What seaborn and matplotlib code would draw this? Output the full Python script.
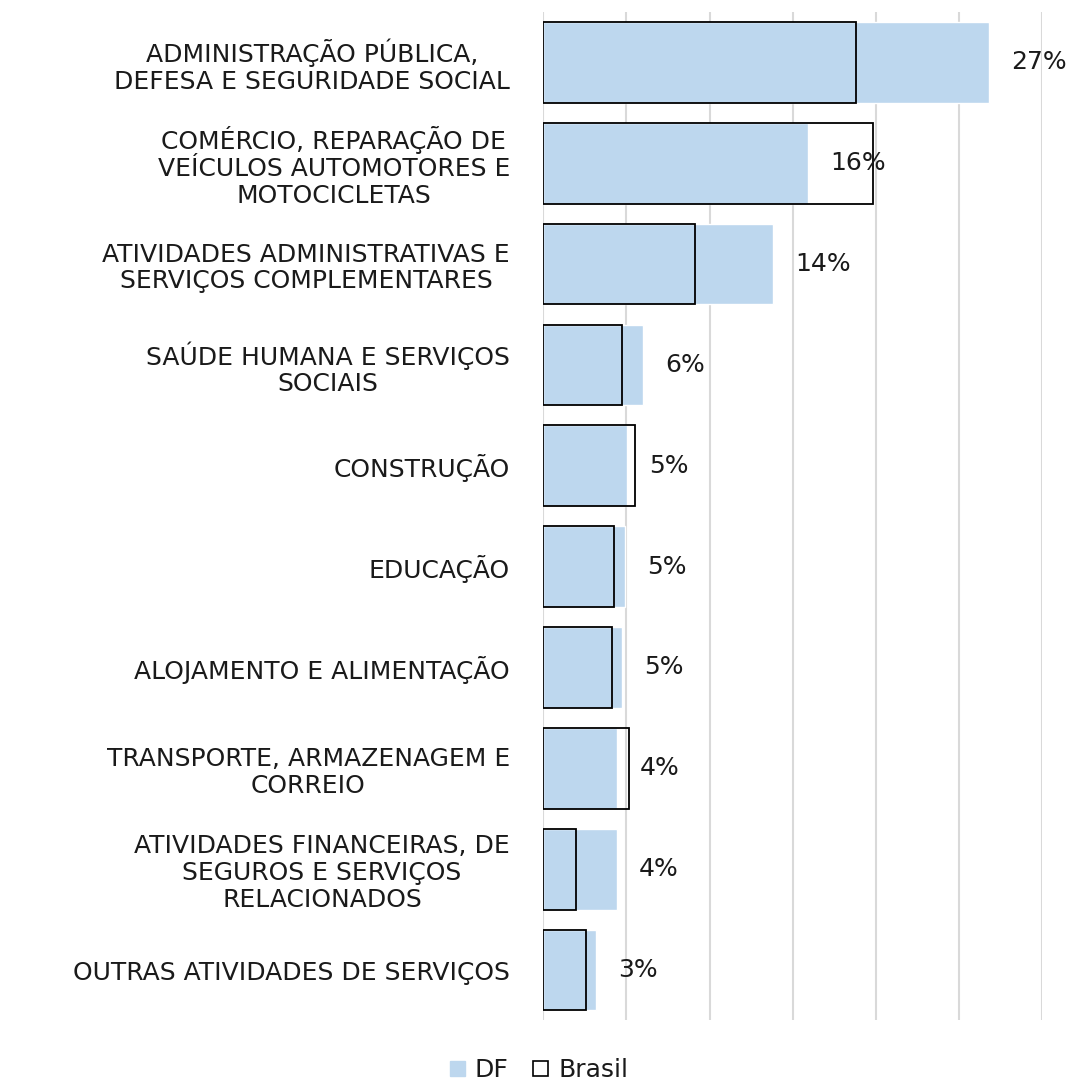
import numpy as np
import pandas as pd
import matplotlib
matplotlib.use("Agg")
import matplotlib.pyplot as plt
import seaborn as sns
from matplotlib.patches import Patch

categories = [
    "ADMINISTRAÇÃO PÚBLICA,\nDEFESA E SEGURIDADE SOCIAL",
    "COMÉRCIO, REPARAÇÃO DE\nVEÍCULOS AUTOMOTORES E\nMOTOCICLETAS",
    "ATIVIDADES ADMINISTRATIVAS E\nSERVIÇOS COMPLEMENTARES",
    "SAÚDE HUMANA E SERVIÇOS\nSOCIAIS",
    "CONSTRUÇÃO",
    "EDUCAÇÃO",
    "ALOJAMENTO E ALIMENTAÇÃO",
    "TRANSPORTE, ARMAZENAGEM E\nCORREIO",
    "ATIVIDADES FINANCEIRAS, DE\nSEGUROS E SERVIÇOS\nRELACIONADOS",
    "OUTRAS ATIVIDADES DE SERVIÇOS",
]
df_share = [26.8, 15.9, 13.8, 6.0, 5.05, 4.9, 4.75, 4.45, 4.4, 3.15]
brasil_share = [18.8, 19.8, 9.1, 4.7, 5.5, 4.25, 4.1, 5.15, 1.95, 2.55]

data = pd.DataFrame({"setor": categories, "DF": df_share, "Brasil": brasil_share})

sns.set_style("white")
plt.rcParams["font.family"] = ["DejaVu Sans"]
text_color = "#1a1a1a"
df_color = "#BDD7EE"

fig = plt.figure(figsize=(10.78, 10.81), dpi=100)
ax = fig.add_axes([0.504, 0.056, 0.463, 0.933])

sns.barplot(data=data, x="DF", y="setor", color=df_color, saturation=1,
            width=0.8, orient="h", ax=ax)
sns.barplot(data=data, x="Brasil", y="setor", fill=False, edgecolor="black",
            linewidth=1.3, width=0.8, orient="h", ax=ax)

ax.bar_label(ax.containers[0], labels=[f"{v:.0f}%" for v in df_share],
             padding=16, fontsize=18, color=text_color)

ax.set_xlim(0, 30)
ax.set_xticks(np.arange(0, 31, 5))
ax.set_xticklabels([])
ax.xaxis.grid(True, color="#D9D9D9", linewidth=1.5)
ax.set_axisbelow(True)
for s in ax.spines.values():
    s.set_visible(False)
ax.set_xlabel("")
ax.set_ylabel("")
ax.tick_params(axis="both", length=0)
ax.tick_params(axis="y", pad=24, labelsize=18, labelcolor=text_color)
for lab in ax.get_yticklabels():
    lab.set_multialignment("center")
    lab.set_linespacing(1.15)

handles = [Patch(facecolor=df_color, edgecolor=df_color, label="DF"),
           Patch(facecolor="white", edgecolor="black", linewidth=1.2, label="Brasil")]
fig.legend(handles=handles, loc="lower center", bbox_to_anchor=(0.5, -0.022),
           ncol=2, frameon=False, fontsize=18, handlelength=0.6,
           handleheight=0.6, handletextpad=0.4, columnspacing=1.0,
           labelcolor=text_color)

fig.savefig("out.png", dpi=100, facecolor="white")
